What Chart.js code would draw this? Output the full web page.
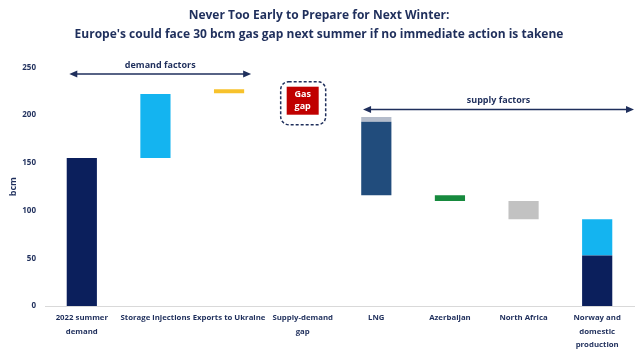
<!DOCTYPE html>
<html lang="en">
<head>
    <meta charset="UTF-8">
    <title>Europe gas gap</title>
    <script src="https://cdn.jsdelivr.net/npm/chart.js"></script>
    <style>
        body { margin: 0; padding: 0; background: #fff; }
        #wrap { width: 640px; height: 349px; }
    </style>
</head>
<body>
    <div id="wrap"><canvas id="gapChart"></canvas></div>

    <script>
        const categories = [
            ['2022 summer', 'demand'], 'Storage injections', 'Exports to Ukraine',
            ['Supply-demand', 'gap'], 'LNG', 'Azerbaijan', 'North Africa',
            ['Norway and', 'domestic', 'production']
        ];
        // floating bars: [bottom, top] in bcm, null where nothing is drawn
        const baseDemand   = [[0, 155], null, null, null, null, null, null, [0, 53]];
        const lightBlue    = [null, [155, 222], null, null, null, null, null, [53, 91]];
        const ukraine      = [null, null, [223, 227], null, null, null, null, null];
        const lngMain      = [null, null, null, null, [116, 193], null, null, null];
        const lngExtra     = [null, null, null, null, [193, 198], null, null, null];
        const azerbaijan   = [null, null, null, null, null, [110, 116], null, null];
        const northAfrica  = [null, null, null, null, null, null, [91, 110], null];
        const yTicks = [0, 50, 100, 150, 200, 250];

        const navy = '#1f2f5c';
        const font = "'Open Sans', sans-serif";

        function ds(data, color) {
            return { data: data, backgroundColor: color, grouped: false, barPercentage: 0.41, categoryPercentage: 1 };
        }

        const annotations = {
            id: 'annotations',
            afterDraw(chart) {
                const ctx = chart.ctx;
                const x = chart.scales.x;
                const y = chart.scales.y;
                const step = x.getPixelForValue(1) - x.getPixelForValue(0);

                function arrow(x1, x2, yy, label) {
                    ctx.save();
                    ctx.strokeStyle = navy;
                    ctx.fillStyle = navy;
                    ctx.lineWidth = 1.5;
                    ctx.beginPath();
                    ctx.moveTo(x1 + 4, yy);
                    ctx.lineTo(x2 - 4, yy);
                    ctx.stroke();
                    ctx.beginPath();
                    ctx.moveTo(x1, yy); ctx.lineTo(x1 + 8, yy - 3.5); ctx.lineTo(x1 + 8, yy + 3.5); ctx.closePath();
                    ctx.moveTo(x2, yy); ctx.lineTo(x2 - 8, yy - 3.5); ctx.lineTo(x2 - 8, yy + 3.5); ctx.closePath();
                    ctx.fill();
                    ctx.font = "bold 9px " + font;
                    ctx.textAlign = 'center';
                    ctx.textBaseline = 'middle';
                    ctx.fillText(label, (x1 + x2) / 2, yy - 9);
                    ctx.restore();
                }

                arrow(x.getPixelForValue(0) - step * 0.17, x.getPixelForValue(2) + step * 0.3, y.getPixelForValue(243), 'demand factors');
                arrow(x.getPixelForValue(4) - step * 0.18, chart.chartArea.right, y.getPixelForValue(206), 'supply factors');

                // gas gap box
                const cx = x.getPixelForValue(3);
                const cy = y.getPixelForValue(213);
                ctx.save();
                ctx.strokeStyle = navy;
                ctx.lineWidth = 1.5;
                ctx.setLineDash([3, 2]);
                ctx.beginPath();
                ctx.roundRect(cx - 22, cy - 21, 45, 43, 8);
                ctx.stroke();
                ctx.setLineDash([]);
                ctx.fillStyle = '#c00000';
                ctx.fillRect(cx - 16, cy - 16, 32, 28);
                ctx.fillStyle = '#fff';
                ctx.font = "bold 9px " + font;
                ctx.textAlign = 'center';
                ctx.textBaseline = 'middle';
                ctx.fillText('Gas', cx, cy - 8);
                ctx.fillText('gap', cx, cy + 4);
                ctx.restore();
            }
        };

        new Chart(document.getElementById('gapChart'), {
            type: 'bar',
            data: {
                labels: categories,
                datasets: [
                    ds(baseDemand, '#0b1f5c'),
                    ds(lightBlue, '#14b4f0'),
                    ds(ukraine, '#f7c22c'),
                    ds(lngMain, '#214c7c'),
                    ds(lngExtra, '#b4bccb'),
                    ds(azerbaijan, '#178a3e'),
                    ds(northAfrica, '#c2c2c2')
                ]
            },
            options: {
                responsive: true,
                maintainAspectRatio: false,
                animation: false,
                layout: { padding: { left: 4, right: 6, top: 0, bottom: 0 } },
                plugins: {
                    legend: { display: false },
                    tooltip: { enabled: false },
                    title: {
                        display: true,
                        text: ['Never Too Early to Prepare for Next Winter:', "Europe's could face 30 bcm gas gap next summer if no immediate action is takene"],
                        color: navy,
                        font: { family: font, size: 12, weight: 'bold', lineHeight: 1.6 },
                        padding: { top: 6, bottom: 23 }
                    }
                },
                scales: {
                    x: {
                        afterFit(scale) { scale.height = 43; },
                        grid: { display: false, drawTicks: false },
                        border: { color: '#d9d9d9' },
                        ticks: {
                            color: navy,
                            font: { family: font, size: 7.8, weight: 'bold', lineHeight: 1.75 },
                            maxRotation: 0, autoSkip: false, padding: 5
                        }
                    },
                    y: {
                        min: 0, max: 250,
                        afterBuildTicks(scale) { scale.ticks = yTicks.map(v => ({ value: v })); },
                        afterFit(scale) { scale.width = 41; },
                        grid: { display: false, drawTicks: false },
                        border: { display: false },
                        ticks: {
                            color: navy,
                            font: { family: font, size: 8, weight: 'bold' },
                            padding: 9
                        },
                        title: {
                            display: true, text: 'bcm', color: navy,
                            font: { family: font, size: 9, weight: 'bold' },
                            padding: { top: 4, bottom: 0 }
                        }
                    }
                }
            },
            plugins: [annotations]
        });
    </script>
</body>
</html>
